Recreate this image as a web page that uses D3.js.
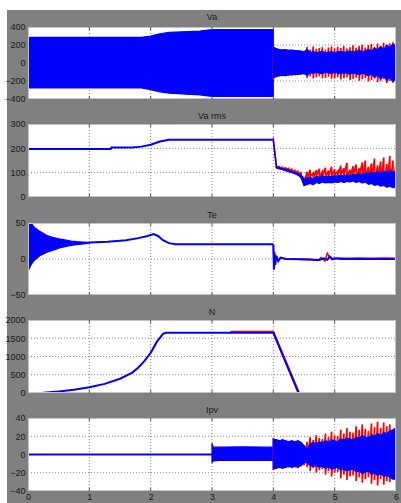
<!DOCTYPE html>
<html><head><meta charset="utf-8">
<script src="https://cdn.jsdelivr.net/npm/d3@7/dist/d3.min.js"></script>
<style>html,body{margin:0;padding:0;background:#fff;}svg{display:block;}</style>
</head><body>
<script>
// ---------- DATA ----------
const X_TICKS = [0, 1, 2, 3, 4, 5, 6];
const TITLES = ["Va", "Va rms", "Te", "N", "Ipv"];
const Y_TICKS = [[-400, -200, 0, 200, 400], [0, 100, 200, 300], [-50, 0, 50], [0, 500, 1000, 1500, 2000], [-40, -20, 0, 20, 40]];

// common sample times of the noisy part after t = 4
const NOISE_T = [4.00,4.05,4.10,4.15,4.20,4.25,4.30,4.35,4.40,4.45,4.50,4.55,4.60,4.65,4.70,4.75,4.80,4.85,4.90,4.95,5.00,5.05,5.10,5.15,5.20,5.25,5.30,5.35,5.40,5.45,5.50,5.55,5.60,5.65,5.70,5.75,5.80,5.85,5.90,5.95,6.00];

// Va : envelope before t=4
const VA_T  = [0, 1.85, 2.0, 2.15, 2.3, 2.8, 3.0, 3.999];
const VA_UP = [285, 285, 300, 325, 340, 355, 372, 372];
const VA_LO = [-278, -278, -295, -320, -335, -355, -372, -372];
// Va : envelopes after t=4
const VA_B_UP = [175,160,150,146,148,142,143,138,137,132,125,150,118,128,115,122,130,112,120,126,114,124,130,118,126,134,120,130,140,124,136,150,132,168,145,185,150,200,170,212,185];
const VA_B_LO = [-165,-150,-140,-136,-138,-132,-130,-128,-126,-122,-115,-140,-108,-116,-104,-112,-118,-102,-110,-116,-104,-114,-120,-108,-116,-124,-110,-122,-130,-114,-126,-142,-122,-160,-134,-178,-142,-196,-160,-206,-175];
const VA_R_UP = [180,160,150,148,152,145,146,142,140,136,132,178,150,182,158,168,176,150,172,184,160,178,168,190,162,176,196,170,188,204,172,198,210,178,216,186,226,200,218,230,205];
const VA_R_LO = [-185,-158,-150,-146,-148,-142,-140,-138,-136,-132,-128,-168,-150,-172,-160,-146,-170,-165,-152,-175,-168,-158,-182,-170,-160,-188,-176,-164,-196,-180,-170,-205,-188,-172,-212,-196,-180,-222,-200,-218,-200];

// Va rms : line before t=4
const RMS_T = [0, 0.001, 1.35, 1.36, 1.7, 1.85, 2.0, 2.15, 2.3, 2.5, 3.999];
const RMS_V = [0, 197, 197, 203, 203, 207, 215, 228, 235, 235, 235];
// Va rms : bands after t=4
const RMS_B_UP = [235,125,120,117,114,110,106,102,96,92,70,78,82,72,86,80,88,82,86,84,88,86,90,86,92,88,94,90,96,92,98,96,100,98,104,100,106,102,108,104,104];
const RMS_B_LO = [230,118,115,112,108,104,100,96,90,80,46,52,56,50,60,56,62,58,60,58,62,60,64,60,64,62,66,60,64,58,62,52,56,48,52,44,48,40,44,38,40];
const RMS_R_UP = [245,130,125,122,120,117,114,110,105,100,78,104,112,98,110,116,104,120,108,124,114,106,128,118,140,112,126,134,118,142,150,124,138,158,130,146,162,136,168,150,140];
const RMS_R_LO = [235,124,119,116,113,109,105,101,96,88,56,74,84,78,86,82,88,84,86,86,90,86,88,88,86,84,88,80,84,76,80,70,66,58,62,48,50,40,44,38,52];

// Te : start-up oscillation envelope
const TE_ENV_T  = [0, 0.05, 0.1, 0.2, 0.3, 0.4, 0.5, 0.6, 0.7, 0.8, 0.9, 1.0];
const TE_ENV_UP = [56, 50, 44, 38, 33, 30, 28, 26.5, 25, 24, 23.5, 23];
const TE_ENV_LO = [-17, -8, -2, 5, 9, 12, 15, 17, 19, 20, 21, 22];
// Te : line
const TE_T = [1.0, 1.3, 1.6, 1.8, 1.95, 2.05, 2.12, 2.2, 2.3, 2.4, 3.999];
const TE_V = [23, 24, 26, 29, 32, 34.5, 32, 26, 22, 20.5, 20.5];
const TE_B_T = [4.0, 4.01, 4.02, 4.03, 4.05, 4.08, 4.12, 4.2, 4.4, 4.6, 4.75, 4.82, 4.88, 4.92, 4.96, 5.0, 5.1, 5.5, 6.0];
const TE_B_V = [20.5, -15, 8, -8, 4, -3, 2, 0, -0.5, -1, -1.5, 1, -1, 3.5, 0, 1, 0, 0, 0];
const TE_R_T = [4.0, 4.01, 4.02, 4.03, 4.05, 4.08, 4.12, 4.2, 4.6, 4.72, 4.78, 4.84, 4.88, 4.92, 4.96, 5.05, 5.2, 5.4, 5.6, 5.8, 6.0];
const TE_R_V = [20.5, -10, 10, -6, 5, -2, 2, 0.5, 0, -2, 2, -3, 8, 2, -1, 1.5, 1, 1.5, 1, 1.5, 1];

// N : speed
const N_T = [0, 0.25, 0.5, 0.75, 1.0, 1.25, 1.5, 1.7, 1.8, 1.9, 2.0, 2.1, 2.2, 2.25, 3.3, 4.0, 4.45];
const N_V = [0, 10, 40, 90, 160, 250, 390, 560, 700, 880, 1100, 1400, 1620, 1650, 1650, 1650, -160];
const N_R_T = [3.3, 4.0, 4.46];
const N_R_V = [1680, 1680, -160];

// Ipv
const IPV_T = [0, 3.0];
const IPV_V = [0, 0];
const IPV_A_T  = [3.0, 3.02, 3.1, 3.5, 3.9, 3.999];
const IPV_A_UP = [12, 8, 8, 8.5, 8, 8];
const IPV_A_LO = [-9, -7, -6.5, -6.5, -6.5, -6.5];
const IPV_B_UP = [17,16,15,16,15,14,15,14,15,13,10,6,12,13,12,14,13,15,14,16,15,14,17,16,18,17,16,19,18,21,19,18,22,20,23,21,24,23,26,27,29];
const IPV_B_LO = [-16,-15,-14,-15,-14,-13,-14,-13,-14,-12,-9,-9,-12,-13,-12,-14,-13,-15,-14,-16,-15,-14,-17,-16,-18,-17,-16,-19,-18,-21,-19,-18,-22,-20,-23,-21,-24,-23,-25,-27,-27];
const IPV_R_UP = [18,17,16,17,16,15,16,15,16,14,8,14,19,16,21,18,17,23,19,25,21,20,27,23,29,25,24,31,27,33,28,26,34,30,36,29,35,31,33,27,25];
const IPV_R_LO = [-17,-16,-15,-16,-15,-14,-15,-14,-15,-13,-12,-14,-18,-15,-20,-17,-16,-22,-18,-24,-20,-19,-26,-22,-28,-24,-23,-29,-25,-31,-27,-25,-32,-28,-34,-27,-33,-29,-30,-26,-24];

// ---------- LAYOUT ----------
const W = 401, H = 503;
const PX0 = 28, PX1 = 396;
const PANELS = [
  {top: 27, bottom: 99, titleY: 20},
  {top: 124, bottom: 197, titleY: 119},
  {top: 223, bottom: 295, titleY: 218},
  {top: 320, bottom: 393, titleY: 315},
  {top: 418, bottom: 491, titleY: 413}
];
const BLUE = "#0000ff", RED = "#ff0000";
const FONT = "'Liberation Sans', Arial, sans-serif";

const svg = d3.select("body").append("svg").attr("width", W).attr("height", H);
svg.append("rect").attr("x", 7).attr("y", 10).attr("width", W - 7).attr("height", H - 10).attr("fill", "#808080");

const x = d3.scaleLinear().domain([0, 6]).range([PX0, PX1]);
const zip = (ts, vs) => ts.map((t, i) => [t, vs[i]]);
const zip3 = (ts, up, lo) => ts.map((t, i) => ({t, u: up[i], l: lo[i]}));

PANELS.forEach((p, k) => {
  const ticks = Y_TICKS[k];
  const y = d3.scaleLinear().domain([ticks[0], ticks[ticks.length - 1]]).range([p.bottom, p.top]);
  const g = svg.append("g");
  g.append("rect").attr("x", PX0).attr("y", p.top).attr("width", PX1 - PX0).attr("height", p.bottom - p.top).attr("fill", "#fff");
  // grid
  X_TICKS.slice(1, -1).forEach(t => {
    g.append("line").attr("x1", x(t)).attr("x2", x(t)).attr("y1", p.top).attr("y2", p.bottom)
      .attr("stroke", "#8a8a8a").attr("stroke-width", 1).attr("stroke-dasharray", "1,2");
  });
  ticks.slice(1, -1).forEach(v => {
    g.append("line").attr("x1", PX0).attr("x2", PX1).attr("y1", y(v)).attr("y2", y(v))
      .attr("stroke", "#8a8a8a").attr("stroke-width", 1).attr("stroke-dasharray", "1,2");
  });
  // clip
  const cid = "clip" + k;
  svg.append("clipPath").attr("id", cid).append("rect").attr("x", PX0).attr("y", p.top).attr("width", PX1 - PX0).attr("height", p.bottom - p.top);
  const d = g.append("g").attr("clip-path", `url(#${cid})`);
  const line = d3.line().x(q => x(q[0])).y(q => y(q[1]));
  const area = d3.area().x(q => x(q.t)).y0(q => y(q.l)).y1(q => y(q.u));
  const band = (data, col) => d.append("path").attr("d", area(data)).attr("fill", col).attr("stroke", col).attr("stroke-width", 1.2).attr("stroke-linejoin", "round");
  const ln = (data, col, w) => d.append("path").attr("d", line(data)).attr("fill", "none").attr("stroke", col).attr("stroke-width", w);
  // oscillating trace: at every sample a swing from the upper to the lower envelope value
  const zz = (data, col, w) => {
    const pts = [];
    data.forEach(q => { pts.push([q.t, q.u]); pts.push([q.t, q.l]); });
    ln(pts, col, w);
  };

  if (k === 0) {
    band(zip3(VA_T, VA_UP, VA_LO), BLUE);
    zz(zip3(NOISE_T, VA_R_UP, VA_R_LO), RED, 1.6);
    band(zip3(NOISE_T, VA_B_UP, VA_B_LO), BLUE);
  } else if (k === 1) {
    ln(zip(RMS_T, RMS_V), BLUE, 2);
    zz(zip3(NOISE_T, RMS_R_UP, RMS_R_LO), RED, 1.7);
    band(zip3(NOISE_T, RMS_B_UP, RMS_B_LO), BLUE);
  } else if (k === 2) {
    band(zip3(TE_ENV_T, TE_ENV_UP, TE_ENV_LO), BLUE);
    ln(zip(TE_T, TE_V), BLUE, 2);
    ln(zip(TE_R_T, TE_R_V), RED, 1.5);
    ln(zip(TE_B_T, TE_B_V), BLUE, 2);
  } else if (k === 3) {
    ln(zip(N_R_T, N_R_V), RED, 2);
    ln(zip(N_T, N_V), BLUE, 2);
  } else {
    ln(zip(IPV_T, IPV_V), BLUE, 2.2);
    band(zip3(IPV_A_T, IPV_A_UP, IPV_A_LO), BLUE);
    zz(zip3(NOISE_T, IPV_R_UP, IPV_R_LO), RED, 1.7);
    band(zip3(NOISE_T, IPV_B_UP, IPV_B_LO), BLUE);
  }
  // frame
  g.append("rect").attr("x", PX0 + 0.5).attr("y", p.top + 0.5).attr("width", PX1 - PX0 - 1).attr("height", p.bottom - p.top - 1)
    .attr("fill", "none").attr("stroke", "#c4c4c4").attr("stroke-width", 1);
  // small inner ticks
  X_TICKS.slice(1, -1).forEach(t => {
    g.append("line").attr("x1", x(t)).attr("x2", x(t)).attr("y1", p.top).attr("y2", p.top + 3).attr("stroke", "#555");
    g.append("line").attr("x1", x(t)).attr("x2", x(t)).attr("y1", p.bottom - 3).attr("y2", p.bottom).attr("stroke", "#555");
  });
  // y axis labels
  const ax = d3.axisLeft(y).tickValues(ticks).tickSize(0).tickPadding(2).tickFormat(d3.format("d"));
  const axg = svg.append("g").attr("transform", `translate(${PX0 - 0.5},0)`).call(ax);
  axg.select(".domain").remove();
  axg.selectAll("text").attr("fill", "#1a1a1a").style("font-family", FONT).style("font-size", "9px");
  // title
  svg.append("text").attr("x", (PX0 + PX1) / 2).attr("y", p.titleY).attr("text-anchor", "middle")
    .attr("fill", "#1a1a1a").style("font-family", FONT).style("font-size", "9px").text(TITLES[k]);
});

// x axis labels (bottom panel only)
const last = PANELS[PANELS.length - 1];
const xax = d3.axisBottom(x).tickValues(X_TICKS).tickSize(0).tickPadding(2).tickFormat(d3.format("d"));
const xg = svg.append("g").attr("transform", `translate(0,${last.bottom + 1})`).call(xax);
xg.select(".domain").remove();
xg.selectAll("text").attr("fill", "#1a1a1a").style("font-family", FONT).style("font-size", "9px");
</script>
</body></html>
